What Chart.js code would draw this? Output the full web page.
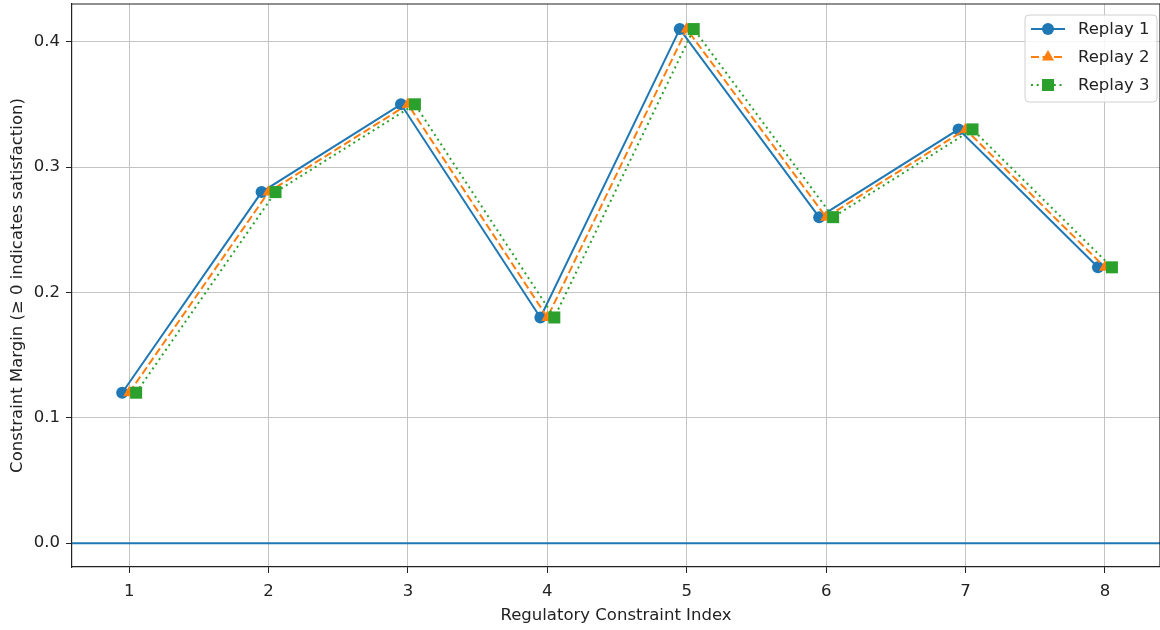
<!DOCTYPE html>
<html>
<head>
<meta charset="utf-8">
<title>Constraint margin per replay</title>
<script src="https://cdn.jsdelivr.net/npm/chart.js@4.4.0/dist/chart.umd.min.js"></script>
<style>
    body { margin: 0; background: #fff; }
    #wrap { width: 1160px; height: 630px; }
</style>
</head>
<body>
<div id="wrap"><canvas id="myChart" width="1160" height="630"></canvas></div>
<script>
// data
const constraintIndex = [1, 2, 3, 4, 5, 6, 7, 8];
const replay1 = [0.12, 0.28, 0.35, 0.18, 0.41, 0.26, 0.33, 0.22];
const replay2 = [0.12, 0.28, 0.35, 0.18, 0.41, 0.26, 0.33, 0.22];
const replay3 = [0.12, 0.28, 0.35, 0.18, 0.41, 0.26, 0.33, 0.22];
const replayNames = ['Replay 1', 'Replay 2', 'Replay 3'];
const replayShift = [-0.05, 0, 0.05]; // small x dodge per replay
const yTicks = [0, 0.1, 0.2, 0.3, 0.4];
const refLine = 0; // >= 0 means satisfied

const FONT = "'DejaVu Sans', sans-serif";
const FONT_SIZE = 16.5;
const colors = ['#1f77b4', '#ff7f0e', '#2ca02c'];
const dashes = [[], [8, 3.5], [2, 3.7]];
const markers = ['circle', 'triangle', 'rect'];
const markerSize = [6, 7, 8.5];

const toPoints = function (values, shift) {
    return values.map((v, i) => ({ x: constraintIndex[i] + shift, y: v }));
};

const allReplays = [replay1, replay2, replay3];
const datasets = allReplays.map((vals, i) => ({
    label: replayNames[i],
    data: toPoints(vals, replayShift[i]),
    borderColor: colors[i],
    backgroundColor: colors[i],
    borderWidth: 2,
    borderDash: dashes[i],
    pointStyle: markers[i],
    pointRadius: markerSize[i],
    pointBorderWidth: 0,
    tension: 0,
    order: 3 - i // later replays drawn on top, like matplotlib
}));

// axhline + top/right spines
const framePlugin = {
    id: 'frame',
    beforeDatasetsDraw: function (chart) {
        const ctx = chart.ctx;
        const a = chart.chartArea;
        const y0 = chart.scales.y.getPixelForValue(refLine);
        ctx.save();
        ctx.strokeStyle = colors[0];
        ctx.lineWidth = 2;
        ctx.beginPath();
        ctx.moveTo(a.left, y0);
        ctx.lineTo(a.right, y0);
        ctx.stroke();
        ctx.strokeStyle = '#222';
        ctx.lineWidth = 1.2;
        ctx.beginPath();
        ctx.moveTo(a.left, a.top);
        ctx.lineTo(a.right, a.top);
        ctx.lineTo(a.right, a.bottom);
        ctx.stroke();
        ctx.restore();
    }
};

const drawMarker = function (ctx, style, x, y, r) {
    ctx.beginPath();
    if (style === 'circle') {
        ctx.arc(x, y, r, 0, Math.PI * 2);
    } else if (style === 'triangle') {
        ctx.moveTo(x, y - r);
        ctx.lineTo(x + r * Math.sin(Math.PI / 3), y + r / 2);
        ctx.lineTo(x - r * Math.sin(Math.PI / 3), y + r / 2);
        ctx.closePath();
    } else {
        const s = r * Math.SQRT1_2;
        ctx.rect(x - s, y - s, s * 2, s * 2);
    }
    ctx.fill();
};

// matplotlib style legend box, upper right inside the axes
const legendPlugin = {
    id: 'mplLegend',
    afterDraw: function (chart) {
        const ctx = chart.ctx;
        const a = chart.chartArea;
        const w = 132, h = 87;
        const left = a.right - 3 - w;
        const top = a.top + 11;
        ctx.save();
        ctx.fillStyle = 'rgba(255,255,255,0.85)';
        ctx.strokeStyle = '#d0d0d0';
        ctx.lineWidth = 1;
        ctx.beginPath();
        ctx.roundRect(left, top, w, h, 4);
        ctx.fill();
        ctx.stroke();
        ctx.font = FONT_SIZE + 'px ' + FONT;
        ctx.textBaseline = 'middle';
        chart.data.datasets.forEach(function (ds, i) {
            const y = top + 14 + i * 28;
            ctx.strokeStyle = ds.borderColor;
            ctx.lineWidth = ds.borderWidth;
            ctx.setLineDash(ds.borderDash);
            ctx.beginPath();
            ctx.moveTo(left + 6, y);
            ctx.lineTo(left + 40, y);
            ctx.stroke();
            ctx.setLineDash([]);
            ctx.fillStyle = ds.backgroundColor;
            drawMarker(ctx, ds.pointStyle, left + 23, y, ds.pointRadius);
            ctx.fillStyle = '#222';
            ctx.fillText(ds.label, left + 53, y + 1);
        });
        ctx.restore();
    }
};

const makeChart = function () {
    const ctx = document.querySelector('#myChart').getContext('2d');
    new Chart(ctx, {
        type: 'line',
        data: { datasets: datasets },
        plugins: [framePlugin, legendPlugin],
        options: {
            responsive: false,
            animation: false,
            layout: { autoPadding: false, padding: { top: 4, right: 0, left: 0, bottom: 0 } },
            plugins: {
                legend: { display: false },
                tooltip: { enabled: false }
            },
            scales: {
                x: {
                    type: 'linear',
                    min: 0.59,
                    max: 8.395,
                    afterBuildTicks: function (scale) {
                        scale.ticks = constraintIndex.map(v => ({ value: v }));
                    },
                    afterFit: function (scale) {
                        scale.height = 63;
                        scale.paddingLeft = 0;
                        scale.paddingRight = 0;
                    },
                    ticks: {
                        color: '#222',
                        font: { family: FONT, size: FONT_SIZE },
                        padding: 9,
                        maxRotation: 0,
                        callback: v => String(v)
                    },
                    grid: { color: '#c4c4c4', lineWidth: 1, tickColor: '#222', tickLength: 6 },
                    border: { color: '#222', width: 1.2 },
                    title: {
                        display: true,
                        text: 'Regulatory Constraint Index',
                        color: '#222',
                        font: { family: FONT, size: FONT_SIZE },
                        padding: { top: 2, bottom: 4 }
                    }
                },
                y: {
                    min: -0.019,
                    max: 0.430,
                    afterBuildTicks: function (scale) {
                        scale.ticks = yTicks.map(v => ({ value: v }));
                    },
                    afterFit: function (scale) {
                        scale.width = 72;
                        scale.paddingTop = 0;
                        scale.paddingBottom = 0;
                    },
                    ticks: {
                        color: '#222',
                        font: { family: FONT, size: FONT_SIZE },
                        padding: 6,
                        callback: v => v.toFixed(1)
                    },
                    grid: { color: '#c4c4c4', lineWidth: 1, tickColor: '#222', tickLength: 6 },
                    border: { color: '#222', width: 1.2 },
                    title: {
                        display: true,
                        text: 'Constraint Margin (≥ 0 indicates satisfaction)',
                        color: '#222',
                        font: { family: FONT, size: FONT_SIZE },
                        padding: { top: 8, bottom: 4 }
                    }
                }
            }
        }
    });
};

makeChart();
</script>
</body>
</html>
